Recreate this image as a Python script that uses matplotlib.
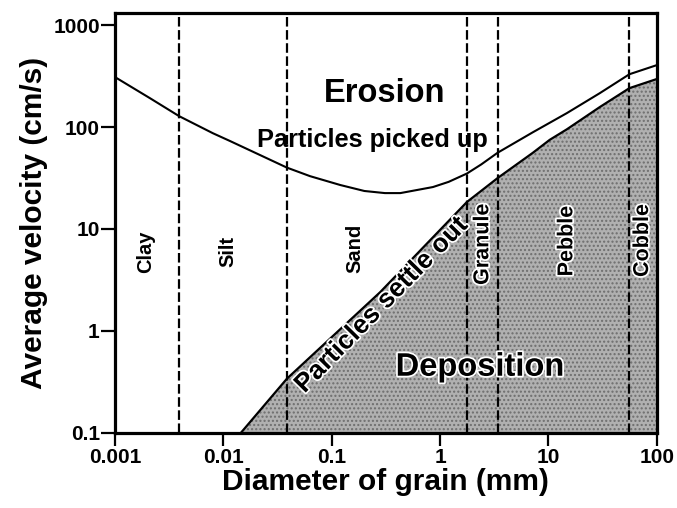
import matplotlib
matplotlib.use("Agg")
import matplotlib.pyplot as plt
import matplotlib.patheffects as pe

plt.rcParams["font.family"] = ["Liberation Sans", "DejaVu Sans"]
plt.rcParams["font.weight"] = "bold"

# erosion curve (particles picked up)
erosion_d = [0.001, 0.0021, 0.0039, 0.008, 0.0115, 0.0386, 0.063, 0.12, 0.2,
             0.31, 0.43, 0.86, 1.2, 1.77, 2.4, 3.4, 7.2, 14.8, 29.8, 56, 100]
erosion_v = [309, 192, 128, 87, 73, 40, 33, 27, 23.6,
             22.5, 22.5, 25.8, 29, 35, 43, 56, 89, 137, 215, 330, 405]

# deposition curve (particles settle out)
settle_d = [0.0145, 0.0386, 0.28, 1.77, 3.4, 7.2, 10.3, 14.8, 29.8, 56, 100]
settle_v = [0.1, 0.34, 2.4, 18.4, 31.6, 56, 75, 95, 157, 241, 296]

# grain size class boundaries (mm)
bounds = [0.0039, 0.0386, 1.77, 3.4, 55]

classes = ["Clay", "Silt", "Sand", "Granule", "Pebble", "Cobble"]
class_d = [0.0019, 0.011, 0.164, 2.48, 14.8, 74]
class_v = [6.0, 6.0, 6.4, 7.1, 7.6, 7.7]

xticks = [0.001, 0.01, 0.1, 1, 10, 100]
xticklabels = ["0.001", "0.01", "0.1", "1", "10", "100"]
yticks = [0.1, 1, 10, 100, 1000]
yticklabels = ["0.1", "1", "10", "100", "1000"]

fig = plt.figure(figsize=(6.77, 5.08), dpi=100)
ax = fig.add_axes([0.170, 0.148, 0.800, 0.826])
ax.set_xscale("log")
ax.set_yscale("log")
ax.set_xlim(0.001, 100)
ax.set_ylim(0.1, 1310)

ax.fill_between(settle_d, 0.1, settle_v, facecolor="#b0b0b0", edgecolor="#6e6e6e",
                hatch="....", linewidth=0, zorder=1)
ax.plot(settle_d, settle_v, color="black", lw=1.6, zorder=3)
ax.plot(erosion_d, erosion_v, color="black", lw=1.5, zorder=3)

for b in bounds:
    ax.axvline(b, color="black", lw=1.6, linestyle=(0, (4.3, 1.6)), zorder=2)

halo = [pe.withStroke(linewidth=2.5, foreground="white")]
for name, d, v in zip(classes, class_d, class_v):
    t = ax.text(d, v, name, rotation=90, ha="center", va="center",
                fontsize=14.5, fontweight="bold", zorder=4)
    if d > 1:
        t.set_fontsize(15.5)
        t.set_path_effects(halo)

ax.text(0.31, 215, "Erosion", ha="center", va="center", fontsize=23.5,
        fontweight="bold", zorder=4)
ax.text(0.235, 75, "Particles picked up", ha="center", va="center", fontsize=18.3,
        fontweight="bold", zorder=4)
ax.text(0.29, 1.8, "Particles settle out", ha="center", va="center", fontsize=19,
        fontweight="bold", rotation=45.6, rotation_mode="anchor",
        path_effects=halo, zorder=4)
ax.text(2.33, 0.44, "Deposition", ha="center", va="center", fontsize=23.5,
        fontweight="bold", path_effects=halo, zorder=4)

ax.set_xticks(xticks)
ax.set_xticklabels(xticklabels)
ax.set_yticks(yticks)
ax.set_yticklabels(yticklabels)
ax.minorticks_off()
ax.tick_params(axis="x", length=9, width=1.6, pad=2, labelsize=15)
ax.tick_params(axis="y", length=10, width=1.6, pad=1, labelsize=15)
for s in ax.spines.values():
    s.set_linewidth(2.3)

ax.set_xlabel("Diameter of grain (mm)", fontsize=21.5, fontweight="bold", labelpad=1)
ax.set_ylabel("Average velocity (cm/s)", fontsize=21.5, fontweight="bold", labelpad=4)

fig.savefig("out.png", dpi=100)
